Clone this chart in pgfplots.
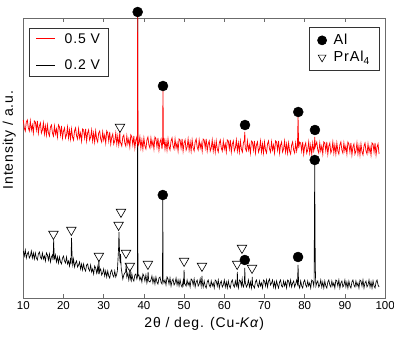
\documentclass[border=0pt]{standalone}
\usepackage{pgfplots}
\pgfplotsset{compat=1.18}
\usepackage{pgfplotstable}
\usepackage{fontspec}
\setmainfont{Liberation Sans}
\newfontfamily\lblfont[LetterSpace=6]{Liberation Sans}

\definecolor{framegray}{gray}{0.42}

% Peak assignments
\pgfplotstableread{
x y
38.45 286
44.75 212
65.15 173
78.4 186
82.55 168
44.7 103
65.1 38
78.35 41
82.5 138
}\alpeaks

\pgfplotstableread{
x y
34.05 171
17.5 64
21.95 68
28.8 42
33.7 73
34.3 86
35.55 45
36.5 32
41.0 34
50.0 37
54.45 32
63.2 34
64.4 50
66.9 30
}\prpeaks

\pgfplotsset{
  xrdbox/.style={
    scale only axis, width=361.8pt, height=280pt,
    xmin=10, xmax=100, ymin=0, ymax=280,
  },
}

\begin{document}
\begin{tikzpicture}
\begin{axis}[
  xrdbox,
  axis line style={framegray, line width=0.7pt},
  xtick={10,20,...,100},
  ytick=\empty,
  tick align=inside,
  major tick length=4pt,
  tick style={framegray, line width=0.7pt},
  xticklabel style={font=\fontsize{11.5}{13}\selectfont},
  /pgf/number format/assume math mode=true,
  xlabel={2θ / deg. (Cu-\textit{Kα})},
  xlabel style={font=\lblfont\fontsize{14}{16}\selectfont, yshift=-1pt},
  ylabel={Intensity / a.u.},
  ylabel style={font=\lblfont\fontsize{14}{16}\selectfont, at={(axis description cs:-0.02,0.564)}, anchor=south, inner sep=0pt},
  legend style={
    at={(0,1)}, xshift=6pt, yshift=-10pt, anchor=north west,
    font=\lblfont\fontsize{14}{16}\selectfont,
    draw=black!80, line width=0.7pt,
    row sep=11pt, column sep=7pt, inner xsep=6pt, inner ysep=3pt,
  },
  legend cell align=left,
  legend image code/.code={\draw[#1, line width=1pt] (0pt,0pt) -- (19pt,0pt);},
  clip=false,
]
% 0.2 V deposit
\addplot[black, line width=0.65pt, forget plot] coordinates {
(10,47) (10.25,42) (10.5,48) (10.75,40) (11,44) (11.25,46) (11.5,40) (11.75,42)
(12,47) (12.25,40) (12.5,45) (12.75,39) (13,45) (13.25,40) (13.5,38) (13.75,44)
(14,46) (14.25,41) (14.5,39) (14.75,45) (15,39) (15.25,42) (15.5,37) (15.75,45)
(16,43) (16.25,38) (16.5,44) (16.75,36) (17,41) (17.25,43) (17.4,38) (17.55,58)
(17.7,40) (17.8,39) (18,43) (18.25,36) (18.5,41) (18.75,35) (19,41) (19.25,36)
(19.5,34) (19.75,40) (20,42) (20.25,37) (20.5,35) (20.75,41) (21,34) (21.25,37)
(21.5,32) (21.75,40) (21.85,34) (22,60) (22.15,40) (22.3,33) (22.5,39) (22.75,31)
(23,35) (23.25,37) (23.5,31) (23.75,33) (24,36) (24.25,29) (24.5,34) (24.75,28)
(25,34) (25.25,29) (25.5,27) (25.75,33) (26,34) (26.25,29) (26.5,27) (26.75,33)
(27,26) (27.25,29) (27.5,24) (27.75,32) (28,30) (28.25,25) (28.5,31) (28.65,24)
(28.8,38) (28.95,26) (29,27) (29.25,29) (29.5,23) (29.75,25) (30,29) (30.25,22)
(30.5,27) (30.75,21) (31,27) (31.25,22) (31.5,20) (31.75,26) (32,28) (32.25,23)
(32.5,21) (32.75,27) (33,21) (33.25,24) (33.4,27) (33.55,38) (33.7,50) (33.8,66)
(33.9,52) (34,40) (34.1,35) (34.2,44) (34.35,30) (34.5,26) (34.75,19) (35,23)
(35.25,25) (35.45,26) (35.6,34) (35.75,21) (36,25) (36.25,18) (36.4,22) (36.55,29)
(36.7,19) (36.85,17) (37,24) (37.25,19) (37.5,17) (37.75,23) (38,24) (38.25,19)
(38.38,21) (38.45,286) (38.52,22) (38.75,23) (39,18) (39.25,21) (39.5,16) (39.75,24)
(40,22) (40.25,17) (40.5,23) (40.75,15) (40.9,18) (41.05,26) (41.2,17) (41.5,16)
(41.75,18) (42,22) (42.25,15) (42.5,20) (42.75,14) (43,21) (43.25,16) (43.5,14)
(43.75,20) (44,21) (44.25,16) (44.5,14) (44.62,19) (44.7,100) (44.78,18) (44.9,17)
(45,15) (45.25,18) (45.5,13) (45.75,21) (46,19) (46.25,14) (46.5,20) (46.75,12)
(47,17) (47.25,19) (47.5,13) (47.75,15) (48,20) (48.25,13) (48.5,18) (48.75,12)
(49,18) (49.25,13) (49.5,11) (49.75,17) (49.88,14) (50,28) (50.12,14) (50.25,14)
(50.5,12) (50.75,18) (51,13) (51.25,16) (51.5,11) (51.75,19) (52,18) (52.25,13)
(52.5,19) (52.75,11) (53,16) (53.25,18) (53.5,12) (53.75,14) (54,19) (54.25,12)
(54.35,17) (54.45,22) (54.55,15) (54.75,11) (55,17) (55.25,12) (55.5,10) (55.75,16)
(56,18) (56.25,13) (56.5,11) (56.75,17) (57,12) (57.25,15) (57.5,10) (57.75,18)
(58,17) (58.25,12) (58.5,18) (58.75,10) (59,15) (59.25,17) (59.5,11) (59.75,13)
(60,18) (60.25,11) (60.5,16) (60.75,10) (61,17) (61.25,12) (61.5,10) (61.75,16)
(62,18) (62.25,13) (62.5,11) (62.75,17) (63,12) (63.15,15) (63.25,26) (63.35,13)
(63.5,10) (63.75,18) (64,17) (64.25,12) (64.45,19) (64.6,13) (64.75,11) (65,15)
(65.1,30) (65.2,16) (65.5,11) (65.75,13) (66,18) (66.25,11) (66.5,16) (66.75,10)
(66.85,14) (66.95,21) (67.05,13) (67.25,12) (67.5,10) (67.75,16) (68,18) (68.25,13)
(68.5,11) (68.75,17) (69,12) (69.25,15) (69.5,10) (69.75,18) (70,17) (70.25,12)
(70.5,18) (70.75,11) (71,17) (71.25,19) (71.5,13) (71.75,15) (72,18) (72.25,11)
(72.5,16) (72.75,10) (73,17) (73.25,13) (73.5,10) (73.75,16) (74,18) (74.25,12)
(74.5,11) (74.75,17) (75,12) (75.25,16) (75.5,10) (75.75,18) (76,17) (76.25,12)
(76.5,18) (76.75,11) (77,15) (77.25,17) (77.5,11) (77.75,14) (78,18) (78.2,14)
(78.35,33) (78.5,13) (78.75,10) (79,17) (79.25,12) (79.5,10) (79.75,16) (80,18)
(80.25,13) (80.5,11) (80.75,17) (81,12) (81.25,15) (81.5,10) (81.75,18) (82,17)
(82.25,12) (82.35,18) (82.42,80) (82.5,136) (82.58,60) (82.68,22) (82.8,12) (83,15)
(83.25,17) (83.5,11) (83.75,13) (84,18) (84.25,11) (84.5,16) (84.75,10) (85,17)
(85.25,12) (85.5,10) (85.75,16) (86,18) (86.25,13) (86.5,11) (86.75,17) (87,12)
(87.25,15) (87.5,10) (87.75,18) (88,17) (88.25,12) (88.5,18) (88.75,10) (89,15)
(89.25,17) (89.5,11) (89.75,13) (90,18) (90.25,11) (90.5,16) (90.75,10) (91,17)
(91.25,12) (91.5,10) (91.75,16) (92,18) (92.25,13) (92.5,11) (92.75,17) (93,12)
(93.25,15) (93.5,10) (93.75,18) (94,17) (94.25,12) (94.5,18) (94.75,10) (95,15)
(95.25,17) (95.5,11) (95.75,13) (96,18) (96.25,11) (96.5,16) (96.75,10) (97,17)
(97.25,12) (97.5,10) (97.75,16) (98,18) (98.25,13) (98.5,11)
};
% 0.5 V deposit
\addplot[red, line width=0.75pt] coordinates {
(10,178) (10.25,170) (10.5,167) (10.75,176) (11,178) (11.25,170) (11.5,167) (11.75,177)
(12,168) (12.25,173) (12.5,165) (12.75,177) (13,176) (13.25,168) (13.5,177) (13.75,165)
(14,172) (14.25,175) (14.5,165) (14.75,168) (15,175) (15.25,164) (15.5,172) (15.75,163)
(16,173) (16.25,165) (16.5,162) (16.75,171) (17,173) (17.25,165) (17.5,162) (17.75,172)
(18,164) (18.25,169) (18.5,161) (18.75,173) (19,171) (19.25,163) (19.5,172) (19.75,160)
(20,167) (20.25,170) (20.5,160) (20.75,163) (21,171) (21.25,160) (21.5,168) (21.75,159)
(22,169) (22.25,161) (22.5,158) (22.75,167) (23,170) (23.25,162) (23.5,159) (23.75,169)
(24,160) (24.25,165) (24.5,157) (24.75,169) (25,168) (25.25,160) (25.5,169) (25.75,157)
(26,165) (26.25,168) (26.5,158) (26.75,161) (27,168) (27.25,157) (27.5,165) (27.75,156)
(28,167) (28.25,159) (28.5,156) (28.75,165) (29,167) (29.25,159) (29.5,156) (29.75,166)
(30,158) (30.25,163) (30.5,155) (30.75,167) (31,165) (31.25,157) (31.5,166) (31.75,154)
(32,161) (32.25,164) (32.5,154) (32.75,157) (33,165) (33.25,154) (33.5,162) (33.75,153)
(33.9,158) (34,167) (34.1,156) (34.25,155) (34.5,152) (34.75,161) (35,163) (35.25,155)
(35.5,152) (35.75,162) (36,154) (36.25,159) (36.5,151) (36.75,163) (37,161) (37.25,153)
(37.5,162) (37.75,150) (38,158) (38.25,161) (38.38,154) (38.45,286) (38.52,152) (38.75,154)
(39,161) (39.25,150) (39.5,158) (39.75,149) (40,160) (40.25,152) (40.5,149) (40.75,158)
(41,161) (41.25,153) (41.5,150) (41.75,160) (42,152) (42.25,157) (42.5,149) (42.75,161)
(43,159) (43.25,151) (43.5,160) (43.75,148) (44,156) (44.25,159) (44.5,149) (44.65,155)
(44.75,208) (44.85,154) (45,160) (45.25,149) (45.5,157) (45.75,148) (46,159) (46.25,151)
(46.5,148) (46.75,157) (47,160) (47.25,152) (47.5,149) (47.75,159) (48,150) (48.25,155)
(48.5,147) (48.75,159) (49,158) (49.25,150) (49.5,159) (49.75,147) (50,155) (50.25,158)
(50.5,148) (50.75,151) (51,159) (51.25,148) (51.5,156) (51.75,147) (52,158) (52.25,150)
(52.5,147) (52.75,156) (53,159) (53.25,151) (53.5,148) (53.75,158) (54,150) (54.25,155)
(54.5,147) (54.75,159) (55,158) (55.25,150) (55.5,159) (55.75,147) (56,154) (56.25,157)
(56.5,147) (56.75,150) (57,158) (57.25,147) (57.5,155) (57.75,146) (58,157) (58.25,149)
(58.5,146) (58.75,155) (59,158) (59.25,150) (59.5,147) (59.75,157) (60,149) (60.25,154)
(60.5,146) (60.75,158) (61,157) (61.25,149) (61.5,158) (61.75,146) (62,154) (62.25,157)
(62.5,147) (62.75,150) (63,158) (63.25,147) (63.5,155) (63.75,146) (64,157) (64.25,149)
(64.5,146) (64.75,155) (65,158) (65.1,166) (65.2,150) (65.5,147) (65.75,157) (66,148)
(66.25,153) (66.5,145) (66.75,157) (67,156) (67.25,148) (67.5,157) (67.75,145) (68,153)
(68.25,156) (68.5,146) (68.75,149) (69,157) (69.25,146) (69.5,154) (69.75,145) (70,156)
(70.25,148) (70.5,145) (70.75,154) (71,157) (71.25,149) (71.5,146) (71.75,156) (72,148)
(72.25,153) (72.5,145) (72.75,157) (73,156) (73.25,148) (73.5,157) (73.75,145) (74,153)
(74.25,156) (74.5,146) (74.75,149) (75,157) (75.25,146) (75.5,154) (75.75,145) (76,155)
(76.25,147) (76.5,144) (76.75,153) (77,156) (77.25,148) (77.5,145) (77.75,155) (78,147)
(78.2,152) (78.35,181) (78.5,150) (78.75,156) (79,155) (79.25,147) (79.5,156) (79.75,144)
(80,152) (80.25,155) (80.5,145) (80.75,148) (81,156) (81.25,145) (81.5,153) (81.75,144)
(82,155) (82.25,147) (82.4,150) (82.5,161) (82.6,151) (82.75,153) (83,156) (83.25,148)
(83.5,145) (83.75,155) (84,147) (84.25,152) (84.5,144) (84.75,156) (85,155) (85.25,147)
(85.5,156) (85.75,144) (86,152) (86.25,155) (86.5,145) (86.75,148) (87,156) (87.25,145)
(87.5,153) (87.75,144) (88,155) (88.25,147) (88.5,144) (88.75,153) (89,156) (89.25,148)
(89.5,145) (89.75,155) (90,147) (90.25,152) (90.5,144) (90.75,156) (91,154) (91.25,146)
(91.5,155) (91.75,143) (92,151) (92.25,154) (92.5,144) (92.75,147) (93,155) (93.25,144)
(93.5,152) (93.75,143) (94,154) (94.25,146) (94.5,143) (94.75,152) (95,155) (95.25,147)
(95.5,144) (95.75,154) (96,146) (96.25,151) (96.5,143) (96.75,155) (97,154) (97.25,146)
(97.5,155) (97.75,143) (98,151) (98.25,154) (98.5,144)
};
\addlegendentry{0.5 V}
\addlegendimage{black}
\addlegendentry{0.2 V}
\end{axis}

\begin{axis}[
  xrdbox,
  hide axis,
  clip=false,
  legend style={
    at={(1,1)}, xshift=-5pt, yshift=-9pt, anchor=north east,
    font=\lblfont\fontsize{14.5}{16}\selectfont,
    draw=black!80, line width=0.7pt,
    row sep=1pt, column sep=5pt, inner xsep=8pt, inner ysep=5pt,
  },
  legend cell align=left,
  legend image post style={mark size=4.5pt},
]
\addplot[only marks, mark=*, mark size=5pt, mark options={fill=black, draw=black}] table {\alpeaks};
\addlegendentry{Al}
\addplot[only marks, mark=triangle, mark size=5.5pt, mark options={rotate=180, fill=white, draw=black, line width=0.6pt}] table {\prpeaks};
\addlegendentry{PrAl\textsubscript{4}}
\end{axis}

\pgfresetboundingbox
\path[use as bounding box] (current axis.south west) ++(-23.3pt,-39pt) rectangle ++(394pt,337pt);
\end{tikzpicture}
\end{document}
